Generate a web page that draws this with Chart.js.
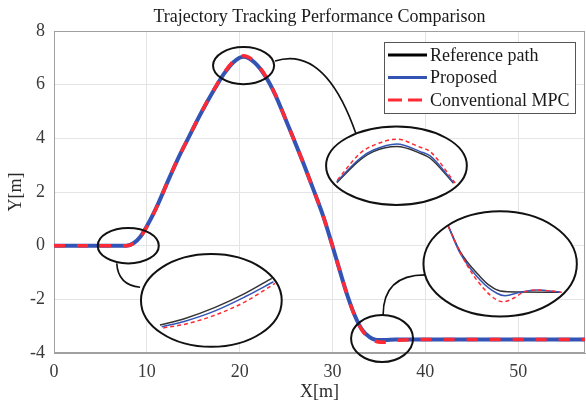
<!DOCTYPE html>
<html>
<head>
<meta charset="utf-8">
<title>Trajectory Tracking Performance Comparison</title>
<script src="https://cdn.jsdelivr.net/npm/chart.js@4.4.1/dist/chart.umd.min.js"></script>
<style>
    html, body { margin: 0; padding: 0; background: #fff; }
    #wrap { width: 586px; height: 405px; }
</style>
</head>
<body>
<div id="wrap"><canvas id="trackChart"></canvas></div>
<script>
// Main path (x in m, y in m)
const pathX = [0, 5, 7.8, 8.6, 9.3, 10.2, 11.2, 12.2, 13.3, 14.45, 15.9, 17.4, 18.3, 19.3, 20.4, 21.6, 22.8, 23.8,
               24.9, 25.9, 27.0, 28.1, 29.0, 29.9, 30.8, 31.6, 32.4, 33.2, 34.0, 34.8, 35.6, 36.8, 40, 50, 57.2];
const refY = [0, 0, 0, 0.1, 0.33, 0.85, 1.55, 2.35, 3.2, 4.0, 4.98, 5.9, 6.4, 6.82, 7.03, 6.82, 6.3, 5.65,
              4.75, 3.9, 2.95, 1.95, 1.1, 0.1, -0.95, -1.85, -2.6, -3.13, -3.4, -3.49, -3.5, -3.5, -3.5, -3.5, -3.5];
const proposedY = [0, 0, 0, 0.1, 0.33, 0.85, 1.55, 2.35, 3.2, 4.0, 4.98, 5.9, 6.4, 6.83, 7.04, 6.83, 6.3, 5.65,
                   4.75, 3.9, 2.95, 1.95, 1.1, 0.1, -0.95, -1.85, -2.6, -3.14, -3.41, -3.52, -3.52, -3.5, -3.5, -3.5, -3.5];
const mpcY = [0, 0, 0, 0.09, 0.31, 0.83, 1.54, 2.35, 3.2, 4.0, 4.99, 5.92, 6.43, 6.86, 7.08, 6.86, 6.32, 5.66,
              4.75, 3.9, 2.95, 1.95, 1.1, 0.1, -0.95, -1.86, -2.62, -3.16, -3.45, -3.58, -3.6, -3.53, -3.5, -3.5, -3.5];

// Tick labels
const xTicks = [0, 10, 20, 30, 40, 50];
const yTicks = [-4, -2, 0, 2, 4, 6, 8];

// Zoomed views, in units of the inset (-1..1 across the inset ellipse)
const zoom1RefU = [-0.73, -0.374, 0.053, 0.479, 0.859];
const zoom1RefV = [-0.53, -0.389, -0.151, 0.151, 0.475];
const zoom1PropU = [-0.706, -0.374, 0.053, 0.479, 0.882];
const zoom1PropV = [-0.57, -0.447, -0.225, 0.078, 0.402];
const zoom1MpcU = [-0.683, -0.374, 0.053, 0.479, 0.906];
const zoom1MpcV = [-0.592, -0.512, -0.317, -0.03, 0.367];

const zoom2RefU = [-0.848, -0.516, -0.327, 0.006, 0.337, 0.479, 0.811];
const zoom2RefV = [-0.431, 0.148, 0.36, 0.487, 0.319, 0.191, -0.446];
const zoom2PropU = [-0.848, -0.516, -0.327, 0.006, 0.337, 0.479, 0.811];
const zoom2PropV = [-0.406, 0.191, 0.40, 0.556, 0.36, 0.25, -0.431];
const zoom2MpcU = [-0.839, -0.516, -0.327, 0.006, 0.337, 0.479, 0.835];
const zoom2MpcV = [-0.362, 0.319, 0.52, 0.676, 0.47, 0.36, -0.446];

const zoom3RefU = [-0.674, -0.522, -0.261, -0.13, 0, 0.261, 0.782];
const zoom3RefV = [0.71, 0.234, -0.242, -0.419, -0.514, -0.533, -0.539];
const zoom3PropU = [-0.674, -0.522, -0.261, -0.043, 0.065, 0.261, 0.478, 0.782];
const zoom3PropV = [0.71, 0.204, -0.305, -0.558, -0.604, -0.539, -0.495, -0.539];
const zoom3MpcU = [-0.674, -0.609, -0.434, -0.218, -0.043, 0.043, 0.173, 0.304, 0.478, 0.652, 0.804];
const zoom3MpcV = [0.71, 0.49, -0.019, -0.463, -0.686, -0.718, -0.653, -0.539, -0.495, -0.514, -0.539];

const X_MIN = 0, X_MAX = 57.2, Y_MIN = -4, Y_MAX = 8;
const SERIF = "'Liberation Serif', 'Times New Roman', serif";
const BLUE = '#3354b4';
const RED = '#ff2a33';

// Inset layout (data units): marked spot, enlarged ellipse, connector curve
const insets = [
    { mark: [8.0, 0.0, 3.29, 0.66], big: [16.95, -2.04, 7.58, 1.73],
      link: [[6.76, -0.66], [6.9, -1.47], [9.27, -1.55]] },
    { mark: [20.42, 6.71, 3.29, 0.69], big: [36.89, 2.98, 7.58, 1.46],
      link: [[23.81, 6.88], [29.2, 7.48], [32.54, 4.16]] },
    { mark: [35.34, -3.46, 3.34, 0.876], big: [48.06, -0.68, 8.26, 1.96],
      link: [[35.45, -2.59], [35.45, -1.09], [39.98, -1.09]] }
];

const toPoints = (xs, ys) => xs.map((x, i) => ({ x: x, y: ys[i] }));

const mainDatasets = [
    { label: 'Conventional MPC', data: toPoints(pathX, mpcY), borderColor: RED, borderWidth: 3.5, borderDash: [11, 12] },
    { label: 'Proposed', data: toPoints(pathX, proposedY), borderColor: BLUE, borderWidth: 4 },
    { label: 'Reference path', data: toPoints(pathX, refY), borderColor: '#000', borderWidth: 2 }
];
mainDatasets.forEach(d => {
    d.order = 2;
    d.pointRadius = 0;
    d.fill = false;
    d.cubicInterpolationMode = 'monotone';
    d.borderCapStyle = 'butt';
});

const zoomSets = [
    [zoom1RefU, zoom1RefV, zoom1PropU, zoom1PropV, zoom1MpcU, zoom1MpcV],
    [zoom2RefU, zoom2RefV, zoom2PropU, zoom2PropV, zoom2MpcU, zoom2MpcV],
    [zoom3RefU, zoom3RefV, zoom3PropU, zoom3PropV, zoom3MpcU, zoom3MpcV]
];
const insetDatasets = [];
const insetScales = {};
zoomSets.forEach((z, k) => {
    const [cx, cy, rx, ry] = insets[k].big;
    const uId = 'u' + k, vId = 'v' + k;
    insetScales[uId] = { type: 'linear', display: false, min: (X_MIN - cx) / rx, max: (X_MAX - cx) / rx };
    insetScales[vId] = { type: 'linear', display: false, min: (Y_MIN - cy) / ry, max: (Y_MAX - cy) / ry };
    const common = { inset: k, order: 1, xAxisID: uId, yAxisID: vId, pointRadius: 0, fill: false,
                     cubicInterpolationMode: 'monotone', borderWidth: 1.5 };
    insetDatasets.push(Object.assign({ data: toPoints(z[4], z[5]), borderColor: RED, borderDash: [4, 3] }, common));
    insetDatasets.push(Object.assign({ data: toPoints(z[2], z[3]), borderColor: BLUE }, common));
    insetDatasets.push(Object.assign({ data: toPoints(z[0], z[1]), borderColor: '#333' }, common));
});

function ellipsePath(ctx, chart, e) {
    const sx = chart.scales.x, sy = chart.scales.y;
    const px = sx.getPixelForValue(e[0]), py = sy.getPixelForValue(e[1]);
    const rx = Math.abs(sx.getPixelForValue(e[0] + e[2]) - px);
    const ry = Math.abs(sy.getPixelForValue(e[1] + e[3]) - py);
    ctx.beginPath();
    ctx.ellipse(px, py, rx, ry, 0, 0, Math.PI * 2);
}

function drawInsetBackgrounds(chart) {
    const ctx = chart.ctx, sx = chart.scales.x, sy = chart.scales.y;
    ctx.save();
    insets.forEach(ins => {
        const p = ins.link.map(q => [sx.getPixelForValue(q[0]), sy.getPixelForValue(q[1])]);
        ctx.beginPath();
        ctx.moveTo(p[0][0], p[0][1]);
        ctx.quadraticCurveTo(p[1][0], p[1][1], p[2][0], p[2][1]);
        ctx.strokeStyle = '#111';
        ctx.lineWidth = 1.6;
        ctx.stroke();
        ellipsePath(ctx, chart, ins.big);
        ctx.fillStyle = '#fff';
        ctx.fill();
    });
    ctx.restore();
}

function drawInsetOutlines(chart) {
    const ctx = chart.ctx;
    ctx.save();
    ctx.strokeStyle = '#111';
    ctx.lineWidth = 2;
    insets.forEach(ins => {
        ellipsePath(ctx, chart, ins.big);
        ctx.stroke();
        ellipsePath(ctx, chart, ins.mark);
        ctx.stroke();
    });
    ctx.restore();
}

function drawLegend(chart) {
    const ctx = chart.ctx, area = chart.chartArea;
    const w = 192, h = 72, right = area.right - 9, top = area.top + 11;
    const left = right - w;
    ctx.save();
    ctx.fillStyle = '#fff';
    ctx.fillRect(left, top, w, h);
    ctx.strokeStyle = '#555';
    ctx.lineWidth = 1;
    ctx.strokeRect(left + 0.5, top + 0.5, w - 1, h - 1);
    const items = mainDatasets.slice().reverse();
    ctx.font = '18px ' + SERIF;
    ctx.textBaseline = 'middle';
    ctx.fillStyle = '#1a1a1a';
    items.forEach((d, i) => {
        const y = top + 13 + i * 22.5;
        ctx.beginPath();
        ctx.moveTo(left + 4, y);
        ctx.lineTo(left + 43, y);
        ctx.strokeStyle = d.borderColor;
        ctx.lineWidth = 3;
        ctx.setLineDash(d.borderDash ? [14, 6] : []);
        ctx.stroke();
        ctx.setLineDash([]);
        ctx.fillText(d.label, left + 46, y + 1);
    });
    ctx.restore();
}

const insetPlugin = {
    id: 'insetPlugin',
    beforeDatasetsDraw(chart) {
        chart.$insetBgDone = false;
        const a = chart.chartArea, ctx = chart.ctx;
        ctx.save();
        ctx.strokeStyle = '#a0a0a0';
        ctx.lineWidth = 1;
        ctx.strokeRect(a.left + 0.5, a.top + 0.5, a.right - a.left - 1, a.bottom - a.top - 1);
        ctx.restore();
    },
    beforeDatasetDraw(chart, args) {
        const ds = chart.data.datasets[args.index];
        if (ds.inset !== undefined && !chart.$insetBgDone) {
            chart.$insetBgDone = true;
            drawInsetBackgrounds(chart);
        }
    },
    afterDatasetsDraw(chart) {
        drawInsetOutlines(chart);
        drawLegend(chart);
        const a = chart.chartArea, ctx = chart.ctx;
        ctx.save();
        ctx.font = '18px ' + SERIF;
        ctx.fillStyle = '#1a1a1a';
        ctx.textAlign = 'center';
        ctx.textBaseline = 'middle';
        ctx.fillText('Trajectory Tracking Performance Comparison', (a.left + a.right) / 2, 17);
        ctx.restore();
    }
};

const tickFont = { family: SERIF, size: 18 };

new Chart(document.getElementById('trackChart'), {
    type: 'line',
    data: { datasets: mainDatasets.concat(insetDatasets) },
    options: {
        responsive: true,
        maintainAspectRatio: false,
        animation: false,
        devicePixelRatio: 1,
        layout: { padding: { top: 31, right: 1, left: 0, bottom: 0 } },
        plugins: { legend: { display: false }, title: { display: false }, tooltip: { enabled: false } },
        scales: Object.assign({
            x: {
                type: 'linear', min: X_MIN, max: X_MAX,
                afterBuildTicks: s => { s.ticks = xTicks.map(v => ({ value: v })); },
                afterFit: s => { s.height = 52; },
                ticks: { font: tickFont, color: '#3a3a3a', padding: 8, maxRotation: 0 },
                grid: { color: '#e4e4e4', drawTicks: false },
                border: { color: '#a0a0a0' },
                title: { display: true, text: 'X[m]', font: tickFont, color: '#2a2a2a', padding: { top: 0, bottom: 2 } }
            },
            y: {
                type: 'linear', min: Y_MIN, max: Y_MAX,
                afterBuildTicks: s => { s.ticks = yTicks.map(v => ({ value: v })); },
                afterFit: s => { s.width = 54; },
                ticks: { font: tickFont, color: '#3a3a3a', padding: 9 },
                grid: { color: '#e4e4e4', drawTicks: false },
                border: { color: '#a0a0a0' },
                title: { display: true, text: 'Y[m]', font: tickFont, color: '#2a2a2a', padding: { top: 5, bottom: 0 } }
            }
        }, insetScales)
    },
    plugins: [insetPlugin]
});
</script>
</body>
</html>
